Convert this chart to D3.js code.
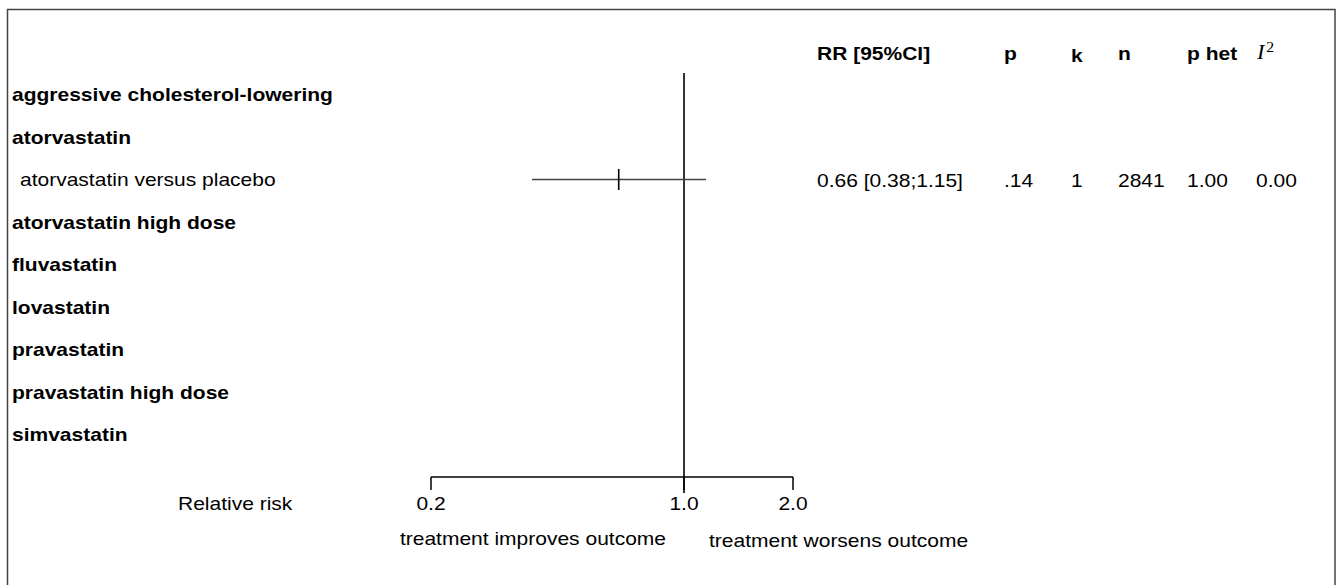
<!DOCTYPE html>
<html>
<head>
<meta charset="utf-8">
<script src="https://cdn.jsdelivr.net/npm/d3@7"></script>
<style>
    body { margin: 0; background: #fff; }
    text { font-family: "Liberation Sans", Arial, sans-serif; fill: #000; }
    .bold { font-weight: bold; }
</style>
</head>
<body>
<div id="chart-area"></div>
<script>
const rowLabels = [
    "aggressive cholesterol-lowering",
    "atorvastatin",
    "atorvastatin versus placebo",
    "atorvastatin high dose",
    "fluvastatin",
    "lovastatin",
    "pravastatin",
    "pravastatin high dose",
    "simvastatin"
];
const groupRows = [
    "aggressive cholesterol-lowering",
    "atorvastatin",
    "atorvastatin high dose",
    "fluvastatin",
    "lovastatin",
    "pravastatin",
    "pravastatin high dose",
    "simvastatin"
];
const studyRows = ["atorvastatin versus placebo"];
const rr = [0.66];
const ciLow = [0.38];
const ciHigh = [1.15];
const pValues = [".14"];
const kValues = [1];
const nValues = [2841];
const pHet = ["1.00"];
const i2Values = ["0.00"];
const headers = ["RR [95%CI]", "p", "k", "n", "p het"];
const axisTicks = [0.2, 1.0, 2.0];
const axisTitle = "Relative risk";
const directionLabels = ["treatment improves outcome", "treatment worsens outcome"];

const chartSize = { width: 1341, height: 585 };
const fontSize = 18.6;
const stretch = 1.13;
const colX = [817, 1004, 1071, 1118, 1187, 1256];
const axisY = 477;

const x = d3.scaleLog().domain([0.2, 2]).range([431, 793]);
const y = d3.scaleLinear().domain([0, 1]).range([94.5, 137]);
const f2 = d3.format(".2f");

const addText = function(g, px, py, str, cls) {
    return g.append("text")
        .attr("transform", `translate(${px},${py}) scale(${stretch},1)`)
        .attr("font-size", fontSize)
        .attr("class", cls || null)
        .text(str);
};

const main = () => {
    const svg = d3.select("#chart-area")
        .append("svg")
        .attr("width", chartSize.width)
        .attr("height", chartSize.height);

    svg.append("rect")
        .attr("x", 7.5).attr("y", 9.5)
        .attr("width", 1327.5).attr("height", 600)
        .attr("fill", "none")
        .attr("stroke", "#444")
        .attr("stroke-width", 1.5);

    // left labels
    rowLabels.forEach((label, i) => {
        const isGroup = groupRows.includes(label);
        addText(svg, isGroup ? 12 : 20, y(i) + 6.5, label, isGroup ? "bold" : null);
    });

    // column headers
    headers.forEach((h, i) => {
        addText(svg, colX[i], h === "k" ? 61.7 : 60, h, "bold");
    });
    const i2 = svg.append("text")
        .attr("transform", `translate(${colX[5] + 1},59) scale(${stretch},1)`)
        .attr("font-size", 20)
        .style("font-family", "'Liberation Serif', serif");
    i2.append("tspan").style("font-style", "italic").text("I");
    i2.append("tspan").attr("dx", 1.5).attr("dy", -7).attr("font-size", 14).text("2");

    // reference line at 1
    svg.append("line")
        .attr("x1", x(1)).attr("x2", x(1))
        .attr("y1", 73).attr("y2", 493)
        .attr("stroke", "#000").attr("stroke-width", 1.6);

    // estimates
    studyRows.forEach((label, j) => {
        const cy = y(rowLabels.indexOf(label));
        svg.append("line")
            .attr("x1", x(ciLow[j])).attr("x2", x(ciHigh[j]))
            .attr("y1", cy).attr("y2", cy)
            .attr("stroke", "#444").attr("stroke-width", 1.7);
        svg.append("line")
            .attr("x1", x(rr[j])).attr("x2", x(rr[j]))
            .attr("y1", cy - 10.5).attr("y2", cy + 10.5)
            .attr("stroke", "#000").attr("stroke-width", 1.6);
        const base = cy + 7;
        addText(svg, colX[0], base, `${f2(rr[j])} [${f2(ciLow[j])};${f2(ciHigh[j])}]`);
        addText(svg, colX[1], base, pValues[j]);
        addText(svg, colX[2], base, kValues[j]);
        addText(svg, colX[3], base, nValues[j]);
        addText(svg, colX[4], base, pHet[j]);
        addText(svg, colX[5], base, i2Values[j]);
    });

    // axis
    const axisG = svg.append("g");
    axisG.append("line")
        .attr("x1", x(axisTicks[0])).attr("x2", x(axisTicks[axisTicks.length - 1]))
        .attr("y1", axisY).attr("y2", axisY)
        .attr("stroke", "#000").attr("stroke-width", 1.5);
    axisTicks.forEach(t => {
        axisG.append("line")
            .attr("x1", x(t)).attr("x2", x(t))
            .attr("y1", axisY).attr("y2", axisY + 13)
            .attr("stroke", "#000").attr("stroke-width", 1.5);
        addText(axisG, x(t), 510, d3.format(".1f")(t)).attr("text-anchor", "middle");
    });
    addText(svg, 178, 510, axisTitle);
    addText(svg, 666, 545, directionLabels[0]).attr("text-anchor", "end");
    addText(svg, 709, 547, directionLabels[1]);
};
window.onload = main;
</script>
</body>
</html>
